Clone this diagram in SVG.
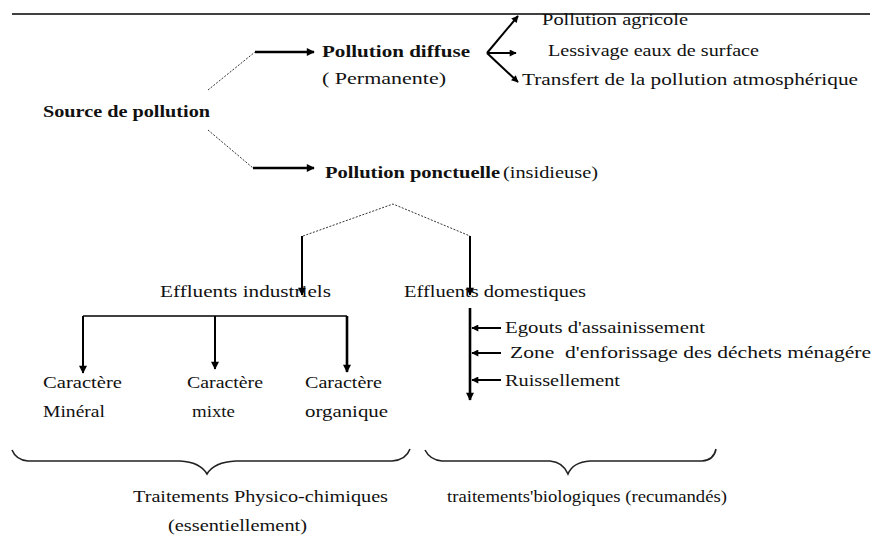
<svg xmlns="http://www.w3.org/2000/svg" width="872" height="538" viewBox="0 0 872 538" font-family="'Liberation Serif', 'DejaVu Serif', serif">
<style>
text{font-family:'Liberation Serif','DejaVu Serif',serif;font-size:17px;fill:#111}
.b{font-weight:bold}
.ln{stroke:#000;fill:none}
.dash{stroke:#333;stroke-width:1;stroke-dasharray:2 1.5;fill:none}
.thick{stroke:#000;stroke-width:2.6;fill:none}
.med{stroke:#000;stroke-width:2;fill:none}
.brace{stroke:#222;stroke-width:1.6;fill:none}
</style>
<defs>
<marker id="ah" viewBox="0 0 10 10" refX="9" refY="5" markerWidth="9" markerHeight="8" markerUnits="userSpaceOnUse" orient="auto">
<path d="M0,0 L10,5 L0,10 Z" fill="#000"/>
</marker>
<marker id="ahs" viewBox="0 0 10 10" refX="9" refY="5" markerWidth="8" markerHeight="7" markerUnits="userSpaceOnUse" orient="auto">
<path d="M0,0 L10,5 L0,10 Z" fill="#000"/>
</marker>
</defs>
<line x1="12" y1="14" x2="870" y2="14" stroke="#000" stroke-width="1.3"/>
<g id="connectors">
<path class="dash" d="M208,90 L255,52"/>
<path class="thick" d="M255,52 L314,52" marker-end="url(#ah)"/>
<path class="dash" d="M208,130 L253,168"/>
<path class="thick" d="M253,168 L314,168" marker-end="url(#ah)"/>
<path class="med" d="M487,53 L518,16" marker-end="url(#ahs)"/>
<path class="med" d="M487,53 L516,53" marker-end="url(#ahs)"/>
<path class="med" d="M487,53 L518,82" marker-end="url(#ahs)"/>
<path class="dash" d="M303,236 L393,204 L470,236"/>
<path class="med" d="M302,236 L302,295" marker-end="url(#ah)"/>
<path class="med" d="M470,236 L470,295" marker-end="url(#ah)"/>
<path class="ln" stroke-width="1.5" d="M83,316 L347,316"/>
<path class="med" d="M83,316 L83,373" marker-end="url(#ah)"/>
<path class="med" d="M215,316 L215,369" marker-end="url(#ah)"/>
<path class="thick" d="M347,316 L347,372" marker-end="url(#ah)"/>
<path class="thick" d="M470,308 L470,400" marker-end="url(#ah)"/>
<path class="med" d="M501,328 L472,328" marker-end="url(#ahs)"/>
<path class="med" d="M501,353 L472,353" marker-end="url(#ahs)"/>
<path class="med" d="M501,380 L472,380" marker-end="url(#ahs)"/>
</g>
<g id="source"><text class="b" x="43" y="117" textLength="167" lengthAdjust="spacingAndGlyphs">Source de pollution</text></g>
<g id="diffuse">
<text class="b" x="322" y="57" textLength="148" lengthAdjust="spacingAndGlyphs">Pollution diffuse</text>
<text x="322" y="84" textLength="124" lengthAdjust="spacingAndGlyphs">( Permanente)</text>
</g>
<g id="agricole"><text x="542" y="25" textLength="146" lengthAdjust="spacingAndGlyphs">Pollution agricole</text></g>
<g id="lessivage"><text x="548" y="56" textLength="211" lengthAdjust="spacingAndGlyphs">Lessivage eaux de surface</text></g>
<g id="transfert"><text x="522" y="85" textLength="336" lengthAdjust="spacingAndGlyphs">Transfert de la pollution atmosphérique</text></g>
<g id="ponctuelle">
<text class="b" x="325" y="178" textLength="175" lengthAdjust="spacingAndGlyphs">Pollution ponctuelle</text>
<text x="503" y="178" textLength="95" lengthAdjust="spacingAndGlyphs">(insidieuse)</text>
</g>
<g id="industriels"><text x="160" y="297" textLength="171" lengthAdjust="spacingAndGlyphs">Effluents industriels</text></g>
<g id="domestiques"><text x="404" y="297" textLength="182" lengthAdjust="spacingAndGlyphs">Effluents domestiques</text></g>
<g id="mineral">
<text x="43" y="388" textLength="79" lengthAdjust="spacingAndGlyphs">Caractère</text>
<text x="43" y="417" textLength="62" lengthAdjust="spacingAndGlyphs">Minéral</text>
</g>
<g id="mixte">
<text x="187" y="388" textLength="76" lengthAdjust="spacingAndGlyphs">Caractère</text>
<text x="192" y="417" textLength="43" lengthAdjust="spacingAndGlyphs">mixte</text>
</g>
<g id="organique">
<text x="305" y="388" textLength="77" lengthAdjust="spacingAndGlyphs">Caractère</text>
<text x="305" y="417" textLength="83" lengthAdjust="spacingAndGlyphs">organique</text>
</g>
<g id="egouts"><text x="505" y="333" textLength="200" lengthAdjust="spacingAndGlyphs">Egouts d'assainissement</text></g>
<g id="zone"><text x="510" y="358" textLength="361" lengthAdjust="spacingAndGlyphs" xml:space="preserve">Zone  d'enforissage des déchets ménagére</text></g>
<g id="ruissellement"><text x="505" y="386" textLength="115" lengthAdjust="spacingAndGlyphs">Ruissellement</text></g>
<g id="brace-physico">
<path class="brace" d="M12,450 Q16,460 28,461 L180,461 Q200,462 207,474 Q214,462 236,461 L392,461 Q406,460 410,449"/>
<text x="133" y="502" textLength="255" lengthAdjust="spacingAndGlyphs">Traitements Physico-chimiques</text>
<text x="168" y="531" textLength="139" lengthAdjust="spacingAndGlyphs">(essentiellement)</text>
</g>
<g id="brace-bio">
<path class="brace" d="M425,450 Q430,460 442,461 L550,461 Q563,462 568,474 Q573,462 590,461 L702,461 Q714,460 716,449"/>
<text x="447" y="502" textLength="280" lengthAdjust="spacingAndGlyphs">traitements'biologiques (recumandés)</text>
</g>
</svg>
